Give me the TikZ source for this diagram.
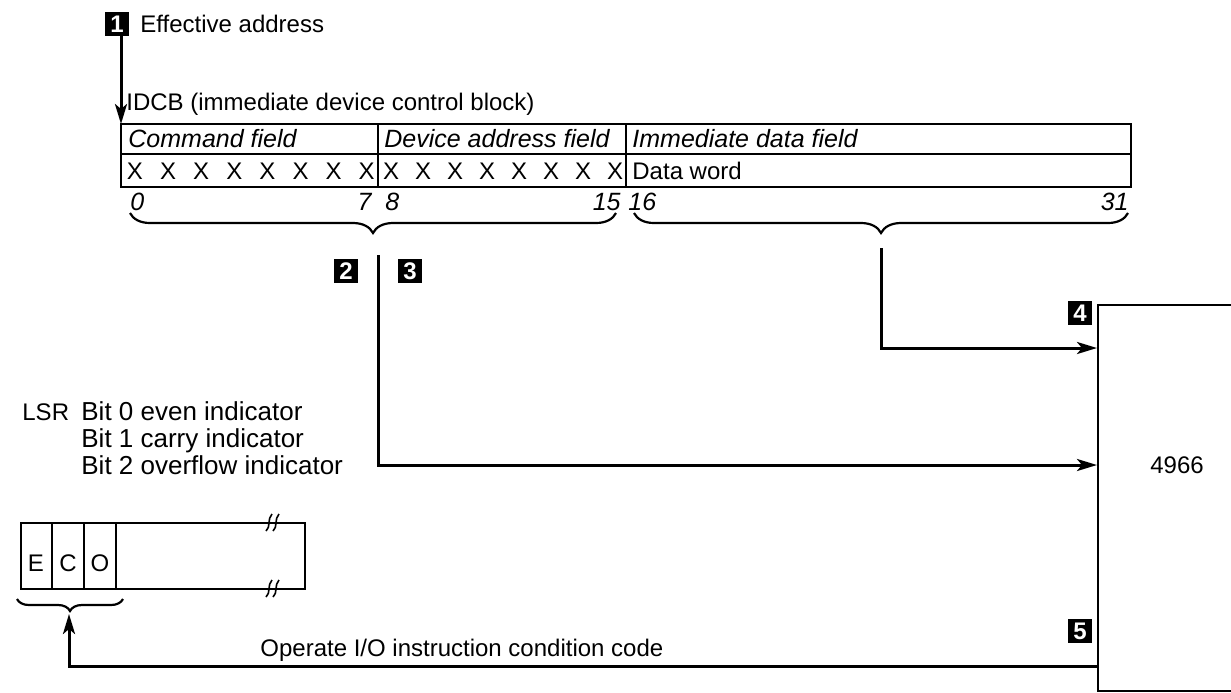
\documentclass[tikz,border=0pt]{standalone}
\usepackage{fontspec}
\setmainfont{Liberation Sans}
\usetikzlibrary{decorations.pathreplacing, arrows.meta}

\tikzset{
    marker/.style={fill=black, text=white, font=\fontsize{12}{12}\selectfont\bfseries,
        inner sep=0pt, minimum size=12pt},
    bracket/.style={decorate, decoration={brace, mirror, amplitude=#1}, line width=1.1pt},
    link/.style={->, line width=1.5pt},
    field/.style={font=\fontsize{12.5}{14}\selectfont\itshape, anchor=west},
    bitno/.style={font=\fontsize{12.5}{14}\selectfont\itshape},
    flag/.style={anchor=base west, font=\fontsize{13}{15}\selectfont},
}

\begin{document}
\begin{tikzpicture}[x=0.5pt, y=-0.5pt, >={Stealth[length=10pt, width=6pt, inset=2.5pt]},
    every node/.style={font=\fontsize{12}{14}\selectfont, inner sep=0pt}]
    \useasboundingbox (0,0) rectangle (1231,692);

    \node[marker] (m1) at (117,24) {1};
    \node[anchor=west] (eff) at (140,24) {Effective address};
    \coordinate (tabnw) at (121,124);
    \draw[link] (m1.south -| tabnw) -- (tabnw);
    \node[anchor=west] (idcb) at (126,104) {IDCB (immediate device control block)};

    \draw[line width=1pt] (tabnw) rectangle (1131,187);
    \draw[line width=1pt] (121,154) -- (1131,154);
    \draw[line width=1pt] (378,124) -- (378,187);
    \draw[line width=1pt] (626,124) -- (626,187);
    \node[field] (cmd) at (128,139) {Command field};
    \node[field] (addr) at (384,139) {Device address field};
    \node[field] (imm) at (632,139) {Immediate data field};
    \foreach \i in {0,...,7} {
        \node (xc\i) at (135+33.1*\i,171) {X};
        \node (xd\i) at (391+32*\i,171) {X};
    }
    \node[anchor=west] (word) at (632,171) {Data word};

    \node[bitno, anchor=west] (b0) at (130,202) {0};
    \node[bitno, anchor=east] (b7) at (372,202) {7};
    \node[bitno, anchor=west] (b8) at (385,202) {8};
    \node[bitno, anchor=east] (b15) at (621,202) {15};
    \node[bitno, anchor=west] (b16) at (628,202) {16};
    \node[bitno, anchor=east] (b31) at (1129,202) {31};

    \draw[bracket=10pt] (130,213) -- (616,213);
    \draw[bracket=10pt] (634,213) -- (1128,213);

    \node[marker] (m2) at (346,271) {2};
    \node[marker] (m3) at (410,271) {3};
    \node[marker] (m4) at (1080,313) {4};
    \node[marker] (m5) at (1080,631) {5};

    \node[draw, line width=1pt, anchor=north west, minimum width=100pt,
        minimum height=193pt] (dev) at (1097,304) {};
    \node (devname) at (1177,465) {4966};

    \coordinate (c4) at (881,248);
    \draw[link] (c4) |- (dev.west |- 0,348);
    \coordinate (c23) at (378,255);
    \draw[link] (c23) |- (dev.west |- 0,465);

    \node[flag, font=\fontsize{12}{14}\selectfont] (lsr) at (22,420) {LSR};
    \node[flag] (bit0) at (81,420) {Bit 0 even indicator};
    \node[flag] (bit1) at (81,447) {Bit 1 carry indicator};
    \node[flag] (bit2) at (81,474) {Bit 2 overflow indicator};

    \draw[line width=1pt] (21,523) rectangle (305,589);
    \foreach \x in {52,84,116}
        \draw[line width=1pt] (\x,523) -- (\x,589);
    \node (e) at (36,563) {E};
    \node (c) at (68,563) {C};
    \node (o) at (100,563) {O};
    \foreach \y in {523,589}
        \foreach \x in {269,276}
            \draw[line width=0.8pt] (\x+3,\y-9) .. controls (\x-2,\y-4) and (\x+2,\y+4) .. (\x-3,\y+8);

    \draw[bracket=6pt] (17,599) -- (123,599);
    \coordinate (eco) at (69,614);
    \draw[link] (dev.west |- 0,666) -| (eco);
    \node[anchor=west] (cc) at (260,650) {Operate I/O instruction condition code};
\end{tikzpicture}
\end{document}
